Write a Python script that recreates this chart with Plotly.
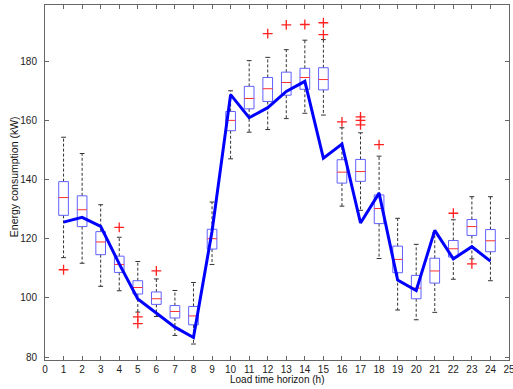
import plotly.graph_objects as go

hours = list(range(1, 25))
whisker_low = [113.6, 111.7, 103.9, 102.4, 95.2, 93.7, 87.3, 84.4, 111.3, 147.0, 156.0, 156.9,
               160.6, 162.4, 161.8, 131.0, 129.6, 113.3, 95.9, 92.6, 95.1, 106.3, 113.2, 105.8]
q1 = [127.9, 124.1, 114.6, 108.6, 101.3, 97.8, 93.2, 90.9, 116.5, 156.5, 163.9, 166.4,
      168.5, 170.5, 170.3, 138.8, 139.4, 125.1, 108.5, 99.7, 105.0, 113.8, 121.1, 115.6]
median = [133.9, 129.8, 118.9, 111.3, 103.5, 99.7, 95.4, 93.9, 120.0, 160.0, 167.4, 170.7,
          172.8, 174.5, 173.8, 142.5, 142.7, 130.2, 113.0, 103.3, 109.1, 116.6, 124.1, 119.3]
q3 = [139.3, 134.5, 122.4, 114.1, 105.8, 102.0, 97.4, 97.1, 123.2, 163.0, 171.5, 174.5,
      176.3, 177.6, 177.8, 146.7, 146.8, 134.8, 117.5, 107.6, 113.4, 119.4, 126.5, 123.1]
whisker_high = [154.3, 148.8, 131.5, 120.5, 112.3, 106.4, 102.5, 105.2, 132.4, 170.0, 180.2, 181.3,
                183.9, 187.1, 187.3, 157.5, 155.8, 147.9, 126.9, 118.1, 122.0, 126.4, 134.2, 134.2]
outliers = [[109.5], [], [], [123.8], [93.6, 91.3], [109.1], [], [], [], [], [], [189.3],
            [192.3], [192.4], [193.0, 189.0], [159.5], [161.2, 160.0, 158.5], [151.8], [], [], [],
            [128.6], [111.5], []]
forecast = [125.6, 127.2, 124.2, 111.5, 99.6, 94.7, 90.1, 86.6, 122.5, 168.7, 160.9, 164.3,
            169.8, 173.2, 147.2, 152.0, 125.3, 135.4, 106.0, 102.5, 122.8, 113.2, 117.3, 112.4]

x_ticks = list(range(0, 26))
y_ticks = [80, 100, 120, 140, 160, 180]

BOX_HW = 0.26
CAP_HW = 0.13

wx, wy, cx, cy, bx, by, mx, my, ox, oy = [], [], [], [], [], [], [], [], [], []
for i, h in enumerate(hours):
    wx += [h, h, None, h, h, None]
    wy += [q3[i], whisker_high[i], None, q1[i], whisker_low[i], None]
    cx += [h - CAP_HW, h + CAP_HW, None, h - CAP_HW, h + CAP_HW, None]
    cy += [whisker_high[i], whisker_high[i], None, whisker_low[i], whisker_low[i], None]
    bx += [h - BOX_HW, h + BOX_HW, h + BOX_HW, h - BOX_HW, h - BOX_HW, None]
    by += [q1[i], q1[i], q3[i], q3[i], q1[i], None]
    mx += [h - BOX_HW, h + BOX_HW, None]
    my += [median[i], median[i], None]
    for o in outliers[i]:
        ox.append(h)
        oy.append(o)

fig = go.Figure()
fig.add_trace(go.Scatter(x=wx, y=wy, mode="lines",
                         line=dict(color="#333333", width=1, dash="3px,2px"), hoverinfo="skip"))
fig.add_trace(go.Scatter(x=cx, y=cy, mode="lines",
                         line=dict(color="#333333", width=1), hoverinfo="skip"))
fig.add_trace(go.Scatter(x=bx, y=by, mode="lines",
                         line=dict(color="#6060ff", width=1), hoverinfo="skip"))
fig.add_trace(go.Scatter(x=mx, y=my, mode="lines",
                         line=dict(color="#ff3030", width=1), hoverinfo="skip"))
fig.add_trace(go.Scatter(x=ox, y=oy, mode="markers",
                         marker=dict(symbol="cross-thin", size=7,
                                     line=dict(color="#ff2020", width=1.3)),
                         hoverinfo="skip"))
fig.add_trace(go.Scatter(x=hours, y=forecast, mode="lines",
                         line=dict(color="#0000ff", width=3), hoverinfo="skip"))

axis_common = dict(showline=True, linecolor="#666666", linewidth=1, mirror="ticks",
                   ticks="inside", ticklen=4, tickcolor="#666666", showgrid=False,
                   zeroline=False, automargin=False, ticklabeloverflow="allow",
                   tickfont=dict(family="Liberation Sans", size=10, color="#222222"))

fig.update_layout(
    width=513, height=389,
    margin=dict(l=45, r=4, t=5, b=29, autoexpand=False),
    paper_bgcolor="white", plot_bgcolor="white",
    showlegend=False,
    xaxis=dict(range=[0, 25], tickvals=x_ticks, ticktext=[str(v) for v in x_ticks],
               ticklabelstandoff=0, **axis_common),
    yaxis=dict(range=[79, 199], tickvals=y_ticks, ticktext=[str(v) for v in y_ticks],
               ticklabelstandoff=5, **axis_common),
    annotations=[
        dict(text="Load time horizon (h)", xref="paper", yref="paper", x=0.5, y=0,
             xanchor="center", yanchor="middle", yshift=-19, showarrow=False,
             font=dict(family="Liberation Sans", size=10, color="#111111")),
        dict(text="Energy consumption (kW)", xref="paper", yref="paper", x=0, y=0.515,
             xanchor="center", yanchor="middle", xshift=-31, textangle=-90, showarrow=False,
             font=dict(family="Liberation Sans", size=10.5, color="#111111")),
    ],
)

fig.write_html("out.html", config={"displayModeBar": False},
               post_script="document.body.style.margin='0';document.body.style.overflow='hidden';")
